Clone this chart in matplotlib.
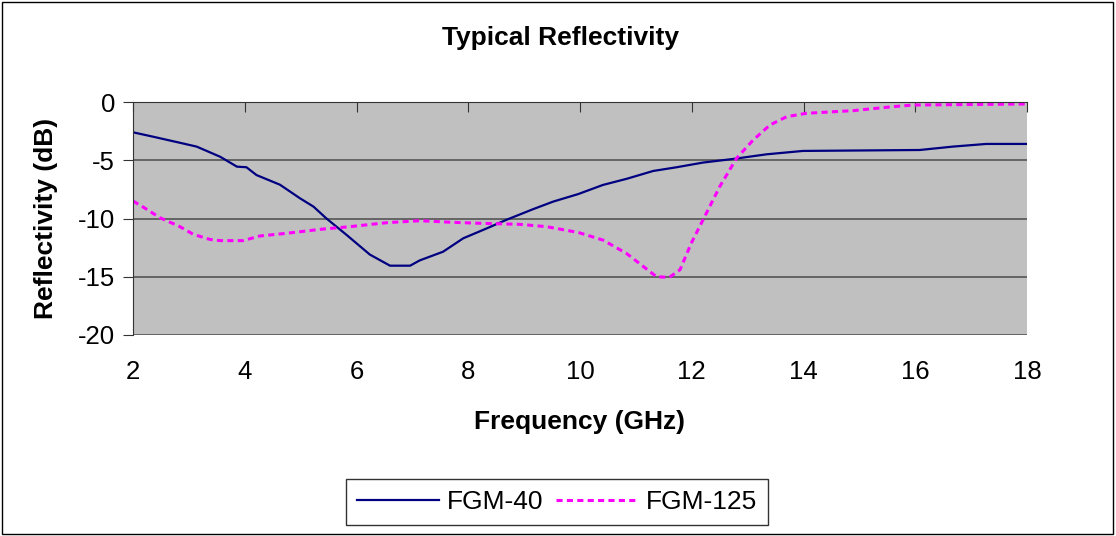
import matplotlib.pyplot as plt
from matplotlib.patches import Rectangle

plt.rcParams['font.family'] = ['Liberation Sans', 'DejaVu Sans']
plt.rcParams['axes.unicode_minus'] = False

# FGM-40
freq_40 = [2.0, 2.36, 2.84, 3.14, 3.56, 3.86, 4.03, 4.21, 4.63, 4.99, 5.23, 5.46, 5.82,
           6.24, 6.6, 6.96, 7.13, 7.55, 7.91, 8.33, 8.69, 9.16, 9.52, 9.97, 10.41, 10.83,
           11.31, 11.73, 12.2, 12.74, 13.34, 13.99, 16.08, 16.67, 17.27, 18.0]
refl_40 = [-2.6, -2.98, -3.5, -3.83, -4.7, -5.55, -5.6, -6.27, -7.1, -8.27, -8.98, -9.99, -11.4,
           -13.1, -14.05, -14.05, -13.6, -12.85, -11.7, -10.85, -10.1, -9.2, -8.55, -7.9, -7.12, -6.6,
           -5.92, -5.6, -5.2, -4.89, -4.49, -4.2, -4.12, -3.83, -3.6, -3.6]

# FGM-125
freq_125 = [2.0, 2.21, 2.48, 2.84, 3.08, 3.38, 3.56, 3.97, 4.27, 4.75, 5.35, 5.88, 6.54,
            7.13, 7.73, 8.21, 8.92, 9.4, 9.97, 10.41, 10.83, 11.37, 11.6, 11.79, 11.99,
            12.2, 12.5, 12.8, 13.1, 13.4, 13.7, 14.05, 14.89, 15.6, 15.96, 18.0]
refl_125 = [-8.5, -9.1, -9.93, -10.7, -11.36, -11.8, -11.9, -11.9, -11.5, -11.27, -10.93, -10.7, -10.36,
            -10.19, -10.33, -10.41, -10.5, -10.7, -11.2, -11.85, -12.99, -15.0, -15.05, -14.4, -12.13,
            -10.13, -7.27, -4.84, -3.26, -1.97, -1.26, -0.97, -0.74, -0.4, -0.26, -0.17]

fig = plt.figure(figsize=(11.16, 5.36), dpi=100)
ax = fig.add_axes([133 / 1116, 1 - 335 / 536, (1027 - 133) / 1116, (335 - 102) / 536])
ax.set_facecolor('#c0c0c0')

ax.plot(freq_40, refl_40, color='#000080', lw=1.6, label='FGM-40')
ax.plot(freq_125, refl_125, color='#ff00ff', lw=2.2, linestyle=(0, (2, 1.4)), label='FGM-125')

ax.set_xlim(2, 18)
ax.set_ylim(-20, 0)
ax.set_xticks(range(2, 19, 2))
ax.set_yticks([0, -5, -10, -15, -20])
for v in [-5, -10, -15, -20]:
    ax.axhline(v, color='#555555', lw=1.2, zorder=0.5)

for s in ['right', 'bottom']:
    ax.spines[s].set_visible(False)
ax.spines['left'].set_color('#333333')
ax.spines['top'].set_color('#333333')
ax.tick_params(axis='x', top=True, bottom=False, labeltop=False, labelbottom=True,
               direction='in', length=7, color='#333333', labelsize=18.5, pad=18)
ax.tick_params(axis='y', direction='out', length=7, color='#333333', labelsize=18.5, pad=6)

fig.text(561 / 1116, 1 - 38 / 536, 'Typical Reflectivity', fontsize=19, fontweight='bold',
         ha='center', va='center')
fig.text(580 / 1116, 1 - 422 / 536, 'Frequency (GHz)', fontsize=19, fontweight='bold',
         ha='center', va='center')
fig.text(46 / 1116, 1 - 218 / 536, 'Reflectivity (dB)', fontsize=19, fontweight='bold',
         ha='center', va='center', rotation=90)

leg = fig.legend(loc='center', bbox_to_anchor=(557 / 1116, 1 - 502 / 536), ncol=2,
                 fontsize=19, frameon=True, fancybox=False, handlelength=3.1,
                 columnspacing=0.5, handletextpad=0.3, borderpad=0.4, borderaxespad=0)
leg.get_frame().set_edgecolor('black')
leg.get_frame().set_linewidth(1)

fig.patches.append(Rectangle((0.002, 0.003), 0.995, 0.994, transform=fig.transFigure,
                             fill=False, edgecolor='black', lw=1))

fig.savefig('out.png', dpi=100)
